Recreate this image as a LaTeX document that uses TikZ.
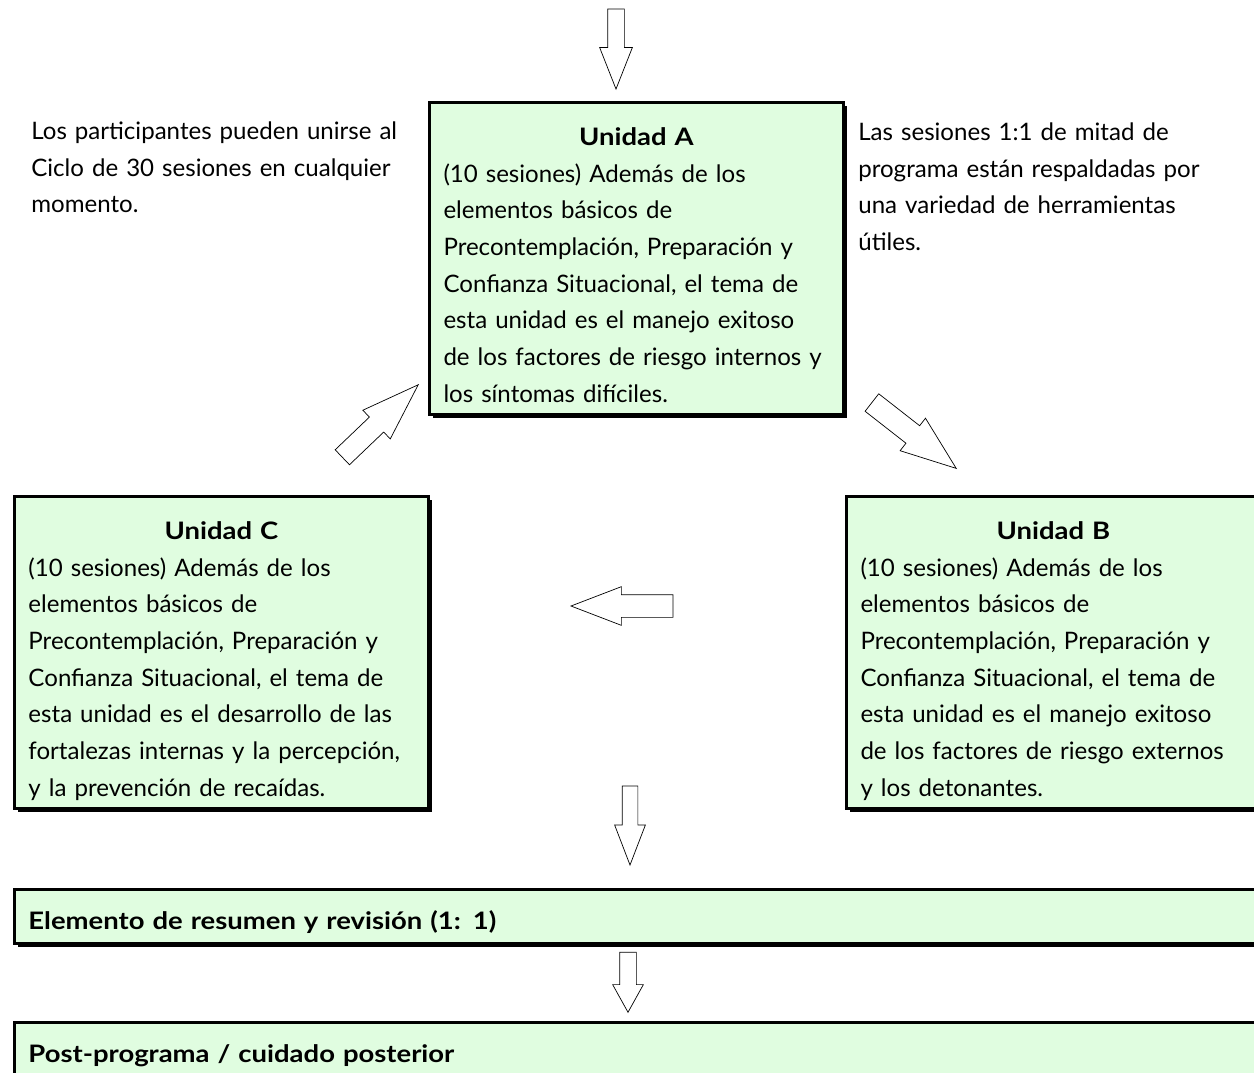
\documentclass[tikz,border=0pt]{standalone}
\usepackage{fontspec}
\setmainfont{Lato}[BoldFeatures={FakeStretch=1.14}]
\usepackage{tikz}
\usetikzlibrary{shapes.arrows,shadows}
\setlength{\parindent}{0pt}

\begin{document}
\begin{tikzpicture}[x=0.02cm,y=-0.02cm]
    \definecolor{mygreen}{RGB}{224,253,224}
    \clip (0,0) rectangle (1254,1072);  % 图片范围

    \tikzstyle{txt}=[font=\fontsize{13.7pt}{20.88pt}\selectfont]  % 字体大小
    \tikzstyle{unit}=[txt,rectangle,draw,line width=0.06cm,fill=mygreen,anchor=north west,
        inner xsep=0.28cm,inner ysep=0pt,align=left,
        drop shadow={shadow xshift=0.07cm,shadow yshift=-0.07cm,fill=black,opacity=1}]  % 单元框
    \tikzstyle{note}=[txt,anchor=north west,inner sep=0pt,align=left,text width=8cm]  % 旁注
    \tikzstyle{blk}=[single arrow,draw,thin,fill=white,inner xsep=0pt,anchor=tip]  % 空心箭头

    % 定义框
    \node[unit,text width=7.72cm](A) at (428,101)
        {\rule{0pt}{0.86cm}\makebox[\linewidth]{\bfseries Unidad A}\\
        (10 sesiones) Además de los\\
        elementos básicos de\\
        Precontemplación, Preparación y\\
        Confianza Situacional, el tema de\\
        esta unidad es el manejo exitoso\\
        de los factores de riesgo internos y\\
        los síntomas difíciles.\rule[-0.25cm]{0pt}{0.25cm}};
    \node[unit,text width=7.72cm](C) at (13,495)
        {\rule{0pt}{0.86cm}\makebox[\linewidth]{\bfseries Unidad C}\\
        (10 sesiones) Además de los\\
        elementos básicos de\\
        Precontemplación, Preparación y\\
        Confianza Situacional, el tema de\\
        esta unidad es el desarrollo de las\\
        fortalezas internas y la percepción,\\
        y la prevención de recaídas.\rule[-0.25cm]{0pt}{0.25cm}};
    \node[unit,text width=7.72cm](B) at (845,495)
        {\rule{0pt}{0.86cm}\makebox[\linewidth]{\bfseries Unidad B}\\
        (10 sesiones) Además de los\\
        elementos básicos de\\
        Precontemplación, Preparación y\\
        Confianza Situacional, el tema de\\
        esta unidad es el manejo exitoso\\
        de los factores de riesgo externos\\
        y los detonantes.\rule[-0.25cm]{0pt}{0.25cm}};
    \node[unit,text width=24.38cm](sum) at (13,887.5)
        {\rule{0pt}{0.81cm}\textbf{Elemento de resumen y revisión (1: 1)}\rule[-0.27cm]{0pt}{0.27cm}};
    \node[unit,text width=24.38cm](post) at (13,1020.5)
        {\rule{0pt}{0.81cm}\textbf{Post-programa / cuidado posterior}\rule[-0.27cm]{0pt}{0.27cm}};

    % 旁注
    \node[note](left) at (31,101)
        {\rule{0pt}{0.76cm}Los participantes pueden unirse al\\
        Ciclo de 30 sesiones en cualquier\\
        momento.};
    \node[note](right) at (858,102)
        {\rule{0pt}{0.76cm}Las sesiones 1:1 de mitad de\\
        programa están respaldadas por\\
        una variedad de herramientas\\
        útiles.};

    % 箭头 (以箭尖定位)
    \node[blk,minimum height=1.6cm,inner ysep=0.16cm,single arrow head extend=0.16cm,
        single arrow tip angle=43,rotate=-90](in) at (616,90){};
    \node[blk,minimum height=2.14cm,inner ysep=0.215cm,single arrow head extend=0.19cm,
        single arrow tip angle=41,rotate=-38](AB) at (957,469){};
    \node[blk,minimum height=2.04cm,inner ysep=0.22cm,single arrow head extend=0.16cm,
        single arrow tip angle=42,rotate=180](BC) at (570,606){};
    \node[blk,minimum height=2.1cm,inner ysep=0.2cm,single arrow head extend=0.19cm,
        single arrow tip angle=38,rotate=43.7](CA) at (419,384){};
    \node[blk,minimum height=1.58cm,inner ysep=0.15cm,single arrow head extend=0.15cm,
        single arrow tip angle=42,rotate=-90](Csum) at (630,866){};
    \node[blk,minimum height=1.2cm,inner ysep=0.16cm,single arrow head extend=0.14cm,
        single arrow tip angle=58,rotate=-90](sumpost) at (628,1013){};
\end{tikzpicture}
\end{document}
